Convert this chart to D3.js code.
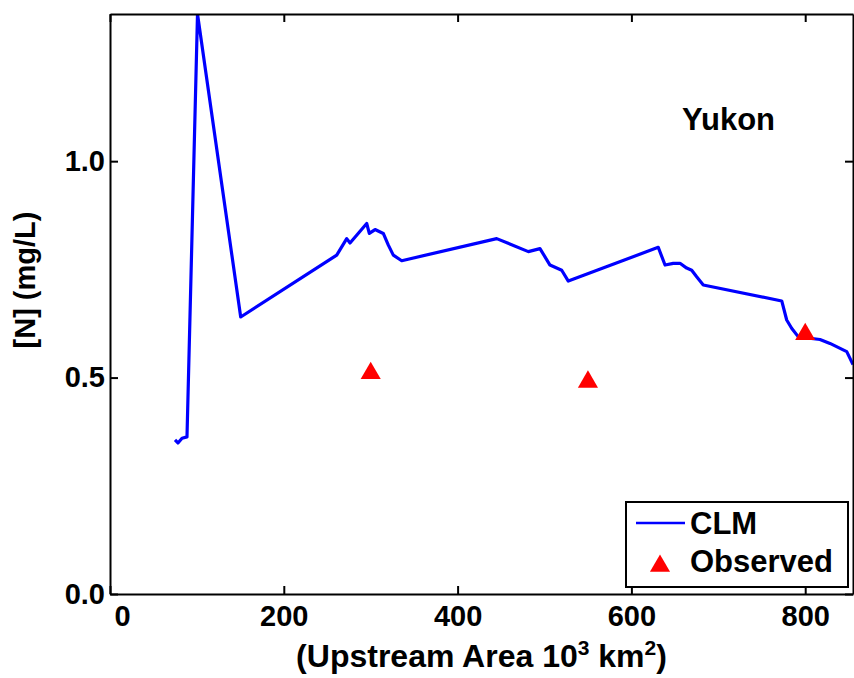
<!DOCTYPE html>
<html>
<head>
<meta charset="utf-8">
<script src="https://cdn.jsdelivr.net/npm/d3@7"></script>
<style>
    body { margin: 0; background: #fff; }
    svg { display: block; }
</style>
</head>
<body>
<div id="chart"></div>
<script>
// CLM modelled nitrogen along the Yukon (upstream area in 10^3 km2)
const clmArea = [74.8, 78.2, 82.9, 88.6, 100.7, 150.4, 260.9, 272.4, 276.2, 295.4, 298.4, 305.0,
    314.5, 320.3, 326.0, 335.7, 445.0, 481.4, 494.8, 506.3, 519.8, 527.4, 630.9, 638.7, 648.2,
    655.9, 663.6, 669.4, 675.1, 682.7, 773.0, 778.7, 784.4, 792.1, 817.0, 828.5, 847.8, 855.0];
const clmN = [0.356, 0.349, 0.360, 0.363, 1.34, 0.640, 0.783, 0.821, 0.811, 0.856, 0.833, 0.842,
    0.833, 0.806, 0.783, 0.770, 0.821, 0.791, 0.798, 0.760, 0.748, 0.723, 0.801, 0.760, 0.764,
    0.764, 0.753, 0.748, 0.733, 0.714, 0.677, 0.633, 0.614, 0.594, 0.588, 0.579, 0.560, 0.530];

// observed stations
const obsArea = [300, 550, 800];
const obsN = [0.51, 0.49, 0.60];

const xTicks = [0, 200, 400, 600, 800];
const yTicks = [0, 0.5, 1.0];

const width = 854;
const height = 678;
const margin = { top: 14, right: 1, bottom: 84, left: 110 };
const graphW = width - margin.left - margin.right;
const graphH = height - margin.top - margin.bottom;

const font = "'Liberation Sans', Arial, Helvetica, sans-serif";

let svg = d3.select("#chart").append("svg")
    .attr("width", width)
    .attr("height", height)
    .style("font-family", font);

let group = svg.append("g")
    .attr("transform", `translate(${margin.left}, ${margin.top})`);

const x = d3.scaleLinear().domain([0, 855]).range([0, graphW]);
const y = d3.scaleLinear().domain([0, 1.34]).range([graphH, 0]);

svg.append("defs").append("clipPath")
    .attr("id", "plot-clip")
    .append("rect")
    .attr("width", graphW)
    .attr("height", graphH);

// CLM line
group.append("path")
    .datum(clmArea.map((a, i) => [a, clmN[i]]))
    .attr("clip-path", "url(#plot-clip)")
    .style("fill", "none")
    .style("stroke", "#0000ff")
    .style("stroke-width", 3.2)
    .style("stroke-linejoin", "round")
    .attr("d", d3.line()
        .x(d => x(d[0]))
        .y(d => y(d[1]))
    );

// observed triangles
const tri = d3.symbol().type(d3.symbolTriangle).size(175);
group.append("g")
    .selectAll("path")
    .data(obsArea.map((a, i) => [a, obsN[i]]))
    .enter()
    .append("path")
    .attr("d", tri)
    .attr("fill", "#ff0000")
    .attr("transform", d => `translate(${x(d[0])}, ${y(d[1])})`);

// axes box with inward ticks
function styleAxis(g) {
    g.select(".domain").attr("stroke", "#000").attr("stroke-width", 2);
    g.selectAll(".tick line").attr("stroke", "#000").attr("stroke-width", 2);
    g.selectAll(".tick text")
        .attr("fill", "#000")
        .style("font-family", font)
        .style("font-weight", 700)
        .style("font-size", "29px");
}

group.append("g")
    .attr("transform", `translate(0, ${graphH})`)
    .call(d3.axisBottom(x)
        .tickValues(xTicks)
        .tickFormat(d3.format("d"))
        .tickSizeInner(-8)
        .tickSizeOuter(0)
        .tickPadding(11)
    )
    .call(styleAxis)
    // the "0" sits a little right of the corner
    .selectAll(".tick text")
    .filter(d => d === 0)
    .attr("dx", 12);

group.append("g")
    .call(d3.axisLeft(y)
        .tickValues(yTicks)
        .tickFormat(d3.format(".1f"))
        .tickSizeInner(-8)
        .tickSizeOuter(0)
        .tickPadding(5)
    )
    .call(styleAxis);

group.append("g")
    .call(d3.axisTop(x)
        .tickValues(xTicks)
        .tickFormat("")
        .tickSizeInner(-8)
        .tickSizeOuter(0)
    )
    .call(styleAxis);

group.append("g")
    .attr("transform", `translate(${graphW}, 0)`)
    .call(d3.axisRight(y)
        .tickValues(yTicks)
        .tickFormat("")
        .tickSizeInner(-8)
        .tickSizeOuter(0)
    )
    .call(styleAxis);

// axis labels
const xLabel = svg.append("text")
    .attr("x", margin.left + graphW / 2)
    .attr("y", 667)
    .attr("text-anchor", "middle")
    .style("font-weight", 700)
    .style("font-size", "32px");
xLabel.append("tspan").text("(Upstream Area 10");
xLabel.append("tspan").attr("dy", -12).style("font-size", "21px").text("3");
xLabel.append("tspan").attr("dy", 12).text(" km");
xLabel.append("tspan").attr("dy", -12).style("font-size", "21px").text("2");
xLabel.append("tspan").attr("dy", 12).text(")");

svg.append("text")
    .attr("transform", "translate(35, 280) rotate(-90)")
    .attr("text-anchor", "middle")
    .style("font-weight", 700)
    .style("font-size", "29px")
    .text("[N] (mg/L)");

// river name
svg.append("text")
    .attr("x", 682)
    .attr("y", 130)
    .style("font-weight", 700)
    .style("font-size", "31px")
    .text("Yukon");

// legend
const legend = svg.append("g");
legend.append("rect")
    .attr("x", 626)
    .attr("y", 502)
    .attr("width", 222)
    .attr("height", 85)
    .attr("fill", "#fff")
    .attr("stroke", "#000")
    .attr("stroke-width", 2);
legend.append("line")
    .attr("x1", 636).attr("x2", 685)
    .attr("y1", 523).attr("y2", 523)
    .attr("stroke", "#0000ff")
    .attr("stroke-width", 2.5);
legend.append("text")
    .attr("x", 690).attr("y", 534)
    .style("font-weight", 700)
    .style("font-size", "31px")
    .text("CLM");
legend.append("path")
    .attr("d", tri)
    .attr("fill", "#ff0000")
    .attr("transform", "translate(660, 566)");
legend.append("text")
    .attr("x", 690).attr("y", 572)
    .style("font-weight", 700)
    .style("font-size", "31px")
    .text("Observed");
</script>
</body>
</html>
